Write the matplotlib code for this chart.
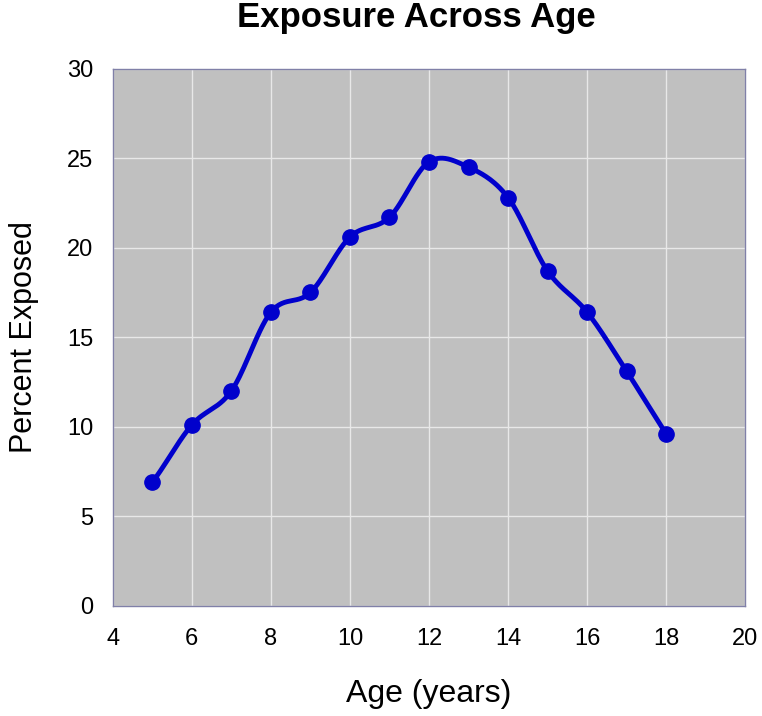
import numpy as np
import matplotlib.pyplot as plt

plt.rcParams['font.family'] = ['Liberation Sans', 'DejaVu Sans']

# data
ages = [5, 6, 7, 8, 9, 10, 11, 12, 13, 14, 15, 16, 17, 18]
pct = [6.9, 10.1, 12.0, 16.4, 17.5, 20.6, 21.7, 24.8, 24.5, 22.8, 18.7, 16.4, 13.1, 9.6]


# smoothed line like a spreadsheet "smoothed line" (Catmull-Rom through the points)
def smooth(xs, ys, n=30):
    p = np.column_stack([xs, ys]).astype(float)
    # extra end points so the first/last segments bend a little too
    p = np.vstack([2 * p[0] - p[1] + (p[1] - p[2]) * 0.5 + (p[1] - p[0]) * 0.5,
                   p, 2 * p[-1] - p[-2] + (p[-2] - p[-3]) * 0.5 + (p[-1] - p[-2]) * 0.5])
    out = []
    t = np.linspace(0, 1, n)[:, None]
    for i in range(1, len(p) - 2):
        p0, p1, p2, p3 = p[i - 1], p[i], p[i + 1], p[i + 2]
        m1 = (p2 - p0) / 2
        m2 = (p3 - p1) / 2
        h00 = 2 * t**3 - 3 * t**2 + 1
        h10 = t**3 - 2 * t**2 + t
        h01 = -2 * t**3 + 3 * t**2
        h11 = t**3 - t**2
        out.append(h00 * p1 + h10 * m1 + h01 * p2 + h11 * m2)
    out = np.vstack(out)
    return out[:, 0], out[:, 1]


fig = plt.figure(figsize=(7.62, 7.16), dpi=100)
ax = fig.add_axes([0.148, 0.154, 0.830, 0.750])
ax.set_facecolor('#C0C0C0')

sx, sy = smooth(ages, pct)
ax.plot(sx, sy, color='#0000CC', lw=3.5, zorder=3)
ax.plot(ages, pct, 'o', color='#0000CC', ms=11, zorder=4)

ax.set_xlim(4, 20)
ax.set_ylim(0, 30)
ax.set_xticks(range(4, 21, 2))
ax.set_yticks(range(0, 31, 5))
ax.grid(True, color='#E8E8E8', lw=1)
ax.set_axisbelow(True)
for s in ax.spines.values():
    s.set_color('#8080A8')
    s.set_linewidth(1)
ax.tick_params(length=0, labelsize=17)
ax.tick_params(axis='x', pad=16)
ax.tick_params(axis='y', pad=14)

ax.set_title('Exposure Across Age', fontsize=25, fontweight='bold', pad=30, x=0.48)
ax.set_xlabel('Age (years)', fontsize=23, labelpad=21)
ax.set_ylabel('Percent Exposed', fontsize=22, labelpad=20)

plt.savefig('out.png', dpi=100)
